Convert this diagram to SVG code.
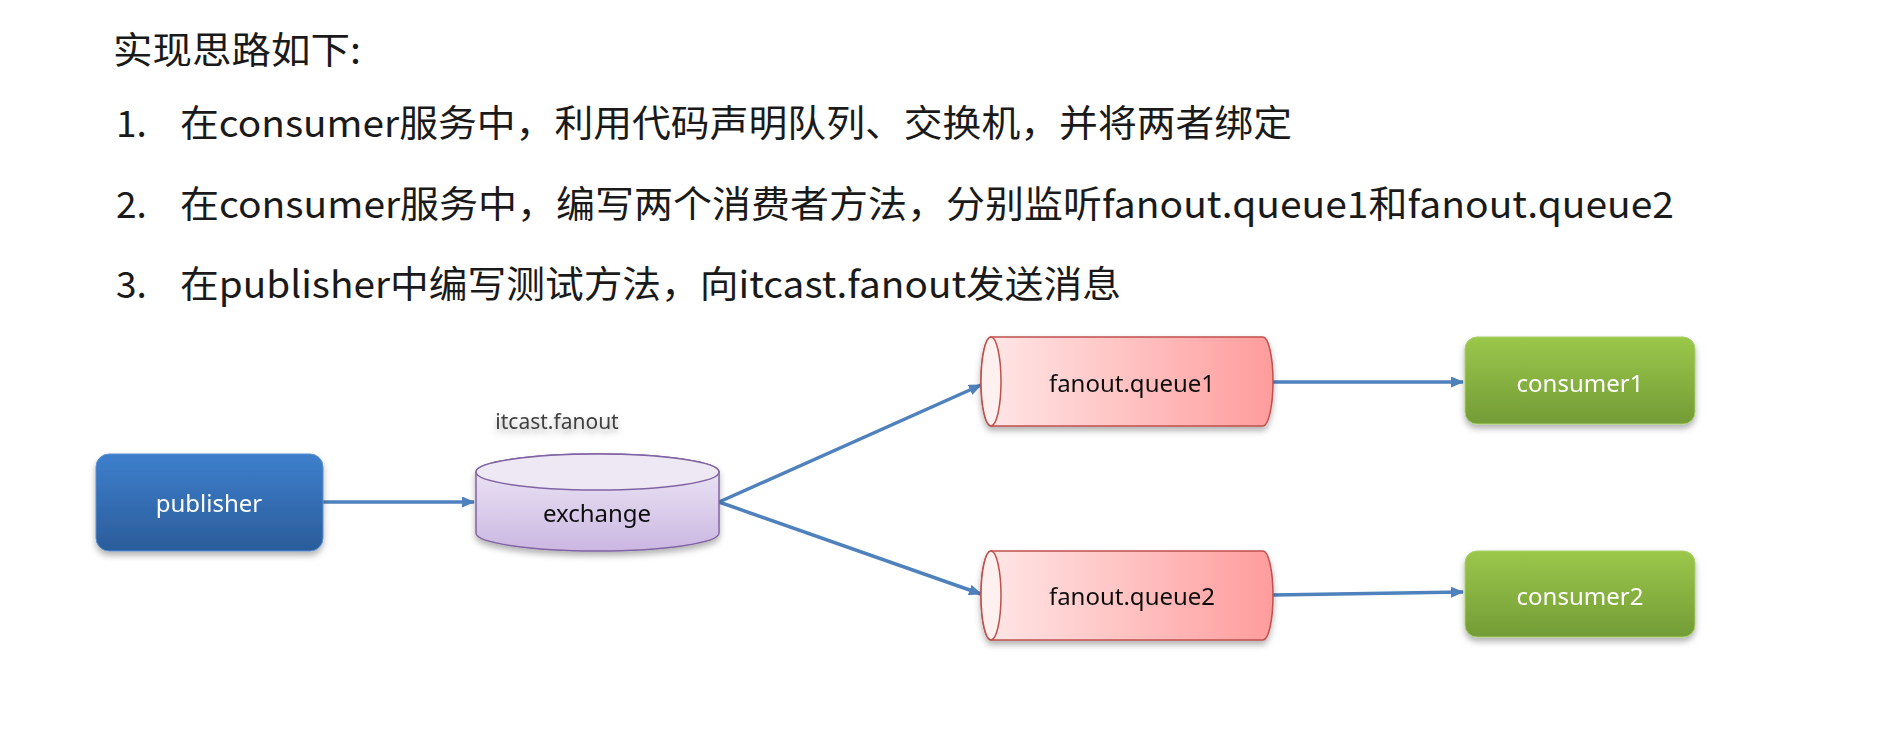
<svg xmlns="http://www.w3.org/2000/svg" width="1888" height="729" viewBox="0 0 1888 729">
<defs>
<linearGradient id="gBlue" x1="0" y1="0" x2="0" y2="1"><stop offset="0" stop-color="#3D7FCC"/><stop offset="1" stop-color="#2B5C9B"/></linearGradient>
<linearGradient id="gGreen" x1="0" y1="0" x2="0" y2="1"><stop offset="0" stop-color="#9BC74B"/><stop offset="1" stop-color="#739C36"/></linearGradient>
<linearGradient id="gPurple" x1="0" y1="0" x2="0" y2="1"><stop offset="0" stop-color="#F0EBF7"/><stop offset="1" stop-color="#CBB7E2"/></linearGradient>
<linearGradient id="gRed" x1="0" y1="0" x2="1" y2="0"><stop offset="0" stop-color="#FFE8E8"/><stop offset="1" stop-color="#FF9C9C"/></linearGradient>
<filter id="sh" x="-10%" y="-10%" width="120%" height="130%"><feDropShadow dx="0" dy="4" stdDeviation="3" flood-color="#000" flood-opacity="0.3"/></filter>
<marker id="ah" markerWidth="13" markerHeight="11" refX="12" refY="5.5" orient="auto" markerUnits="userSpaceOnUse" viewBox="0 0 13 11"><path d="M0,0 L13,5.5 L0,11 z" fill="#4F81BD"/></marker>
<style>
.hd{font-family:"Noto Sans CJK SC","Noto Sans",sans-serif;font-size:37px;fill:#1a1a1a}
.lbl{font-family:"Noto Sans",sans-serif;font-size:24px;text-anchor:middle;dominant-baseline:central}
.w{fill:#fff}
.k{fill:#111}
.conn{stroke:#4F81BD;stroke-width:3.5;fill:none;marker-end:url(#ah)}
</style>
</defs>
<rect width="1888" height="729" fill="#fff"/>
<g id="text">
<text class="hd" x="113" y="64" textLength="248" lengthAdjust="spacingAndGlyphs">实现思路如下:</text>
<text class="hd" x="116" y="137">1.</text>
<text class="hd" x="180" y="137" textLength="1112" lengthAdjust="spacingAndGlyphs">在consumer服务中，利用代码声明队列、交换机，并将两者绑定</text>
<text class="hd" x="116" y="218">2.</text>
<text class="hd" x="180" y="218" textLength="1494" lengthAdjust="spacingAndGlyphs">在consumer服务中，编写两个消费者方法，分别监听fanout.queue1和fanout.queue2</text>
<text class="hd" x="116" y="298">3.</text>
<text class="hd" x="180" y="298" textLength="941" lengthAdjust="spacingAndGlyphs">在publisher中编写测试方法，向itcast.fanout发送消息</text>
</g>
<g id="connectors">
<line class="conn" x1="323" y1="502" x2="474" y2="502"/>
<line class="conn" x1="719" y1="502" x2="981" y2="385"/>
<line class="conn" x1="719" y1="502" x2="981" y2="594"/>
<line class="conn" x1="1273" y1="382" x2="1463" y2="382"/>
<line class="conn" x1="1273" y1="595" x2="1463" y2="592"/>
</g>
<g id="publisher" filter="url(#sh)">
<rect x="96" y="454" width="227" height="97" rx="13" fill="url(#gBlue)" stroke="#5B8FD0" stroke-width="1"/>
<text class="lbl w" x="209" y="502">publisher</text>
</g>
<g id="exchange" filter="url(#sh)">
<path d="M476,472 L476,533 A121.5,18 0 0 0 719,533 L719,472 A121.5,18 0 0 0 476,472 z" fill="url(#gPurple)" stroke="#8064A2" stroke-width="1.5"/>
<ellipse cx="597.5" cy="472" rx="121.5" ry="18" fill="#EEE8F5" stroke="#8064A2" stroke-width="1.5"/>
<text class="lbl k" x="597" y="512">exchange</text>
<text x="557" y="429" font-family="Noto Sans, sans-serif" font-size="21" fill="#404040" text-anchor="middle">itcast.fanout</text>
</g>
<g id="queue1" filter="url(#sh)">
<path d="M991,337 L1263,337 A10,44.5 0 0 1 1263,426 L991,426 A10,44.5 0 0 1 991,337 z" fill="url(#gRed)" stroke="#C0504D" stroke-width="1.5"/>
<ellipse cx="991" cy="381.5" rx="10" ry="44.5" fill="#FFF0F0" stroke="#C0504D" stroke-width="1.5"/>
<text class="lbl k" x="1132" y="382">fanout.queue1</text>
</g>
<g id="queue2" filter="url(#sh)">
<path d="M991,551 L1263,551 A10,44.5 0 0 1 1263,640 L991,640 A10,44.5 0 0 1 991,551 z" fill="url(#gRed)" stroke="#C0504D" stroke-width="1.5"/>
<ellipse cx="991" cy="595.5" rx="10" ry="44.5" fill="#FFF0F0" stroke="#C0504D" stroke-width="1.5"/>
<text class="lbl k" x="1132" y="595">fanout.queue2</text>
</g>
<g id="consumer1" filter="url(#sh)">
<rect x="1465" y="337" width="230" height="87" rx="12" fill="url(#gGreen)" stroke="#A9CF6A" stroke-width="1"/>
<text class="lbl w" x="1580" y="382">consumer1</text>
</g>
<g id="consumer2" filter="url(#sh)">
<rect x="1465" y="551" width="230" height="86" rx="12" fill="url(#gGreen)" stroke="#A9CF6A" stroke-width="1"/>
<text class="lbl w" x="1580" y="595">consumer2</text>
</g>
</svg>
